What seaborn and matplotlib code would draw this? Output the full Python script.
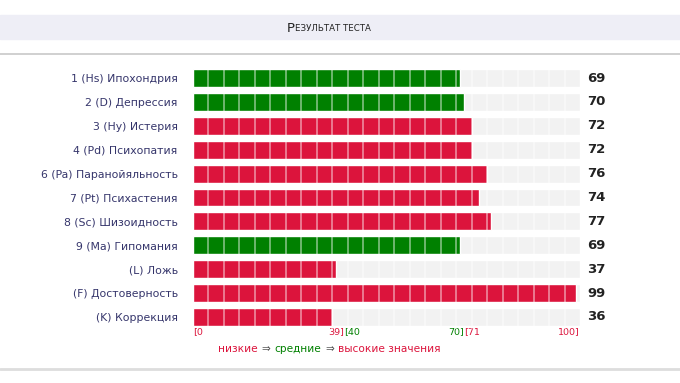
import numpy as np
import pandas as pd
import seaborn as sns
import matplotlib.pyplot as plt
import matplotlib.transforms as mtransforms
from matplotlib.patches import Rectangle
from matplotlib.lines import Line2D

# data
scales = ['1 (Hs) Ипохондрия', '2 (D) Депрессия', '3 (Hy) Истерия',
          '4 (Pd) Психопатия', '6 (Pa) Паранойяльность', '7 (Pt) Психастения',
          '8 (Sc) Шизоидность', '9 (Ma) Гипомания', '(L) Ложь',
          '(F) Достоверность', '(K) Коррекция']
scores = [69, 70, 72, 72, 76, 74, 77, 69, 37, 99, 36]
bounds_low = 39   # 0..39 low
bounds_mid = 70   # 40..70 middle, 71..100 high
scale_max = 100
legend_words = ['низкие', 'средние', 'высокие значения']

RED = '#dc143c'
GREEN = '#008000'
GREY_BG = '#f2f2f2'

level = ['mid' if bounds_low < s <= bounds_mid else 'out' for s in scores]
df = pd.DataFrame({'scale': scales, 'score': scores, 'level': level,
                   'full': [scale_max] * len(scales)})

W, H = 680, 383
fig = plt.figure(figsize=(W / 100, H / 100), dpi=100)
sns.set_style('white')
plt.rcParams['font.family'] = ['DejaVu Sans']


def fx(px):
    return px / W


def fy(py):
    return 1 - py / H


# header band and separator lines
fig.patches.append(Rectangle((0, fy(39)), 1, (39 - 15) / H, transform=fig.transFigure,
                             color='#eeeef6', zorder=0))
fig.lines.append(Line2D([0, 1], [fy(54), fy(54)], transform=fig.transFigure,
                        color='#c8c8c8', lw=1.2))
fig.lines.append(Line2D([0, 1], [fy(369), fy(369)], transform=fig.transFigure,
                        color='#dddddd', lw=2))
fig.text(fx(295), fy(28), 'Р', ha='right', va='center', fontsize=9.5, color='#222222')
fig.text(fx(295), fy(28.6), 'ЕЗУЛЬТАТ ТЕСТА', ha='left', va='center', fontsize=6.2,
         color='#222222')

row = 23.9
top_px = 78 - row / 2
bot_px = 317 + row / 2
ax = fig.add_axes([fx(193), fy(bot_px), fx(580 - 193), (bot_px - top_px) / H])

sns.barplot(data=df, x='full', y='scale', color=GREY_BG, width=0.75, orient='h',
            saturation=1, ax=ax)
sns.barplot(data=df, x='score', y='scale', hue='level', palette={'mid': GREEN, 'out': RED},
            width=0.75, dodge=False, orient='h', saturation=1, legend=False, ax=ax)

for xv in range(4, scale_max, 4):
    ax.axvline(xv, color='white', lw=1.1, alpha=0.55, zorder=5)

ax.set_xlim(0, scale_max)
ax.set_ylim(len(scales) - 0.5, -0.5)
ax.set_xlabel('')
ax.set_ylabel('')
ax.set_xticks([])
sns.despine(ax=ax, left=True, bottom=True)
ax.tick_params(axis='y', length=0, pad=11, labelsize=7.8, labelcolor='#35356b')

for i, s in enumerate(scores):
    ax.text(101.8, i, str(s), va='center', ha='left', fontsize=9.5, fontweight='bold',
            color='#222222')

# range markers below the bars
tr = mtransforms.blended_transform_factory(ax.transData, fig.transFigure)
yk = fy(332)
marks = [(0, '[0', 'left', RED), (bounds_low, f'{bounds_low}]', 'right', RED),
         (bounds_low, f'[{bounds_low + 1}', 'left', GREEN),
         (bounds_mid, f'{bounds_mid}]', 'right', GREEN),
         (bounds_mid, f'[{bounds_mid + 1}', 'left', RED),
         (scale_max, f'{scale_max}]', 'right', RED)]
for xv, txt, ha, c in marks:
    ax.text(xv, yk, txt, transform=tr, ha=ha, va='center', fontsize=6.8, color=c)

# colour legend line, pieces chained one after another
yl = fy(349)
parts = [(legend_words[0], RED), ('⇒', '#555555'), (legend_words[1], GREEN),
         ('⇒', '#555555'), (legend_words[2], RED)]
renderer = fig.canvas.get_renderer()
xpos = 218
gap = 4
for txt, c in parts:
    t = fig.text(fx(xpos), yl, txt, ha='left', va='center', fontsize=7.6, color=c)
    bb = t.get_window_extent(renderer=renderer)
    xpos += bb.width + gap

fig.savefig('out.png', dpi=100)
